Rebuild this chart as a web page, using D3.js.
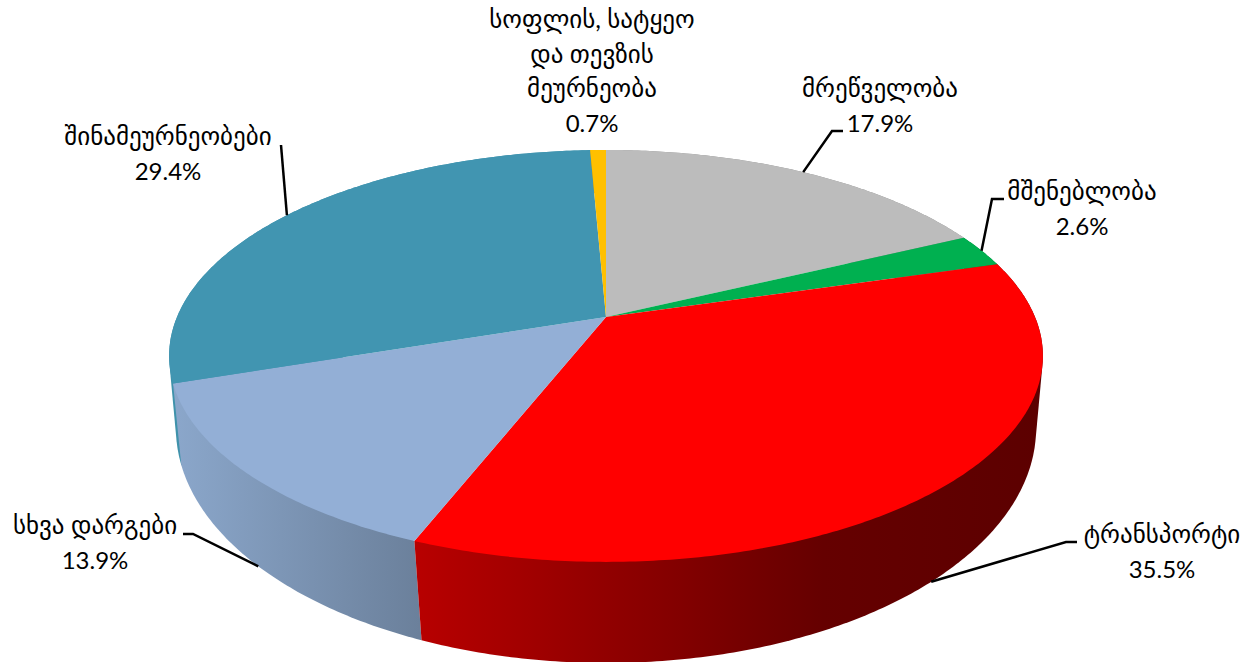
<!DOCTYPE html>
<html>
<head>
<meta charset="utf-8">
<script src="https://cdn.jsdelivr.net/npm/d3@7"></script>
<style>
  html, body { margin: 0; padding: 0; background: #fff; overflow: hidden; }
  text { font-family: Lato, "DejaVu Sans", sans-serif; fill: #000; }
</style>
</head>
<body>
<svg width="1255" height="662"></svg>
<script>
const categories = [
    ["მრეწველობა"],
    ["მშენებლობა"],
    ["ტრანსპორტი"],
    ["სხვა დარგები"],
    ["შინამეურნეობები"],
    ["სოფლის, სატყეო", "და თევზის", "მეურნეობა"]
]
const shares = [17.9, 2.6, 35.5, 13.9, 29.4, 0.7]
const topColors = ["#bcbcbc", "#00b050", "#ff0000", "#93afd6", "#4195b1", "#ffc000"]
const wallColors = ["#8c8c8c", "#00803a", "url(#wallRed)", "url(#wallBlue)", "#3f92ab", "#bf9000"]

// label centre and first baseline, then the elbow of the leader line
const labelX = [880, 1082, 1162, 95, 168, 592]
const labelY = [97, 200, 543, 534, 145, 28]
const elbows = [[[843, 131], [832, 131]], [[1004, 199], [992, 199]], [[1077, 542], [1066, 542]], [[183, 534], [193, 534]], [[281, 145]], []]

const lineHeight = 34.5
const fontSize = 24
const georgianSize = 25

// perspective of the pie disc, top face and bottom face
const cx = 606
const topFace = {y0: 317, a: 198.6, b: 429, k: 0.189}
const bottomFace = {y0: 389.2, a: 228.6, b: 424.2, k: 0.165}

function project(angle, face){
    const X = Math.sin(angle)
    const Y = -Math.cos(angle)
    const s = 1 / (1 - face.k * Y)
    return [cx + face.b * X * s, face.y0 + face.a * Y * s]
}

function arcPoints(d, face){
    const n = Math.ceil((d.endAngle - d.startAngle) * 90)
    return d3.range(n + 1).map(i => project(d.startAngle + (d.endAngle - d.startAngle) * i / n, face))
}

const svg = d3.select("svg")
const line = d3.line()
const pie = d3.pie().sort(null).value(d => d)
const slices = pie(shares)

const defs = svg.append("defs")
function gradient(id, x1, x2, stops){
    const g = defs.append("linearGradient")
        .attr("id", id)
        .attr("gradientUnits", "userSpaceOnUse")
        .attr("x1", x1).attr("x2", x2)
        .attr("y1", 0).attr("y2", 0)
    g.selectAll("stop").data(stops).enter().append("stop")
        .attr("offset", d => d[0])
        .attr("stop-color", d => d[1])
}
gradient("wallRed", 415, 1043, [[0, "#b80000"], [0.65, "#650000"], [1, "#5c0000"]])
gradient("wallBlue", 173, 420, [[0, "#8ba7cb"], [1, "#6b809b"]])

// walls first, back to front, the top face paints over whatever falls behind it
// the hull gives the straight edge between the widest points of the two faces
svg.append("g").selectAll("path")
    .data(slices.slice().reverse())
    .enter()
    .append("path")
    .attr("d", d => line(d3.polygonHull(arcPoints(d, topFace).concat(arcPoints(d, bottomFace)))) + "Z")
    .style("fill", d => wallColors[d.index])

svg.append("g").selectAll("path")
    .data(slices)
    .enter()
    .append("path")
    .attr("d", d => line([[cx, topFace.y0]].concat(arcPoints(d, topFace))) + "Z")
    .style("fill", (d, i) => topColors[i])

function anchor(d){
    const mid = (d.startAngle + d.endAngle) / 2
    const front = mid > Math.PI / 2 && mid < Math.PI * 1.5
    return project(mid, front ? bottomFace : topFace)
}

svg.append("g").selectAll("path")
    .data(slices.filter((d, i) => elbows[i].length))
    .enter()
    .append("path")
    .attr("d", d => line(elbows[d.index].concat([anchor(d)])))
    .style("fill", "none")
    .style("stroke", "#000")
    .style("stroke-width", 2.5)

const labels = svg.append("g").selectAll("text")
    .data(slices)
    .enter()
    .append("text")
    .attr("text-anchor", "middle")
    .attr("y", (d, i) => labelY[i])

labels.each(function(d, i){
    const text = d3.select(this)
    categories[i].forEach((t, j) => {
        text.append("tspan")
            .attr("x", labelX[i])
            .attr("dy", j ? lineHeight : 0)
            .style("font-size", georgianSize + "px")
            .text(t)
    })
    text.append("tspan")
        .attr("x", labelX[i])
        .attr("dy", lineHeight)
        .style("font-size", fontSize + "px")
        .text(d3.format(".1f")(shares[i]) + "%")
})
</script>
</body>
</html>
